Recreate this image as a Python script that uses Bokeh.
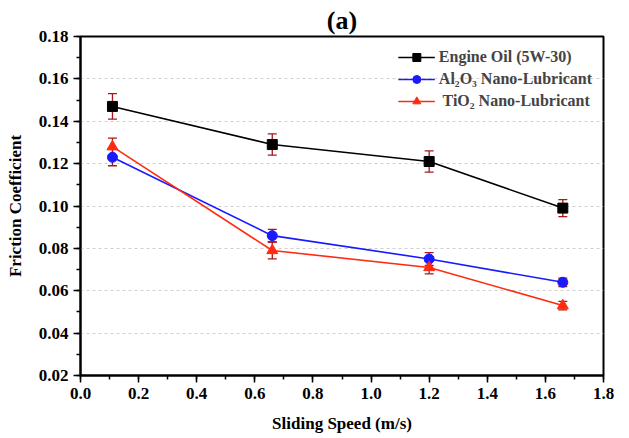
from bokeh.plotting import figure
from bokeh.models import ColumnDataSource, Whisker, TeeHead, NumeralTickFormatter, Range1d, SingleIntervalTicker, Legend, LegendItem, Title
from bokeh.embed import file_html
from bokeh.resources import INLINE

speed = [0.11, 0.66, 1.2, 1.66]
oil = [0.147, 0.129, 0.121, 0.099]
oil_err = [0.006, 0.005, 0.005, 0.004]
al2o3 = [0.123, 0.086, 0.075, 0.064]
al2o3_err = [0.004, 0.003, 0.003, 0.002]
tio2 = [0.128, 0.079, 0.071, 0.053]
tio2_err = [0.004, 0.004, 0.003, 0.002]

names = ["Engine Oil (5W-30)", "Al\u2082O\u2083 Nano-Lubricant", " TiO\u2082 Nano-Lubricant"]
colors = ["black", "#1a1aff", "#ff2a10"]
markers = ["square", "circle", "triangle"]
sizes = [10, 10, 11]
FONT = "Liberation Serif"

p = figure(width=627, height=436, output_backend="svg", toolbar_location=None,
           x_range=Range1d(0, 1.8), y_range=Range1d(0.02, 0.18),
           min_border_left=80, min_border_right=24, min_border_top=36, min_border_bottom=61)

p.title = Title(text="(a)", align="center", text_font=FONT, text_font_size="26px",
                text_font_style="bold", text_color="black")
p.title.standoff = 3

p.outline_line_color = "black"
p.outline_line_width = 2
p.xgrid.visible = False
p.ygrid.grid_line_color = "#cfcfcf"
p.ygrid.grid_line_dash = "3 3"
p.ygrid.grid_line_width = 1

p.xaxis.ticker = SingleIntervalTicker(interval=0.2, num_minor_ticks=2)
p.yaxis.ticker = SingleIntervalTicker(interval=0.02, num_minor_ticks=2)
p.xaxis.formatter = NumeralTickFormatter(format="0.0")
p.yaxis.formatter = NumeralTickFormatter(format="0.00")
for ax in (p.xaxis, p.yaxis):
    ax.axis_line_width = 2
    ax.major_tick_line_width = 1.5
    ax.minor_tick_line_width = 1.5
    ax.major_tick_out = 7
    ax.major_tick_in = 0
    ax.minor_tick_out = 4
    ax.minor_tick_in = 0
    ax.major_label_text_font = FONT
    ax.major_label_text_font_style = "bold"
    ax.major_label_text_font_size = "17px"
    ax.major_label_text_color = "black"
    ax.axis_label_text_font = FONT
    ax.axis_label_text_font_style = "bold"
    ax.axis_label_text_font_size = "17px"
    ax.axis_label_text_color = "black"
p.xaxis.major_label_standoff = 5
p.yaxis.major_label_standoff = 5
p.xaxis.axis_label = "Sliding Speed (m/s)"
p.yaxis.axis_label = "Friction Coefficient"
p.xaxis.axis_label_standoff = 12
p.yaxis.axis_label_standoff = 11

items = []
for vals, errs, name, c, m, s in zip([oil, al2o3, tio2], [oil_err, al2o3_err, tio2_err],
                                     names, colors, markers, sizes):
    src = ColumnDataSource(dict(x=speed, y=vals,
                                lo=[v - e for v, e in zip(vals, errs)],
                                hi=[v + e for v, e in zip(vals, errs)]))
    w = Whisker(source=src, base="x", upper="hi", lower="lo", dimension="height",
                line_color="#a81818", line_width=1.3,
                upper_head=TeeHead(size=9, line_color="#a81818", line_width=1.3),
                lower_head=TeeHead(size=9, line_color="#a81818", line_width=1.3))
    p.add_layout(w)
    r1 = p.line("x", "y", source=src, line_color=c, line_width=1.6)
    r2 = p.scatter("x", "y", source=src, marker=m, size=s, fill_color=c, line_color=c)
    items.append(LegendItem(label=name, renderers=[r1, r2]))

leg = Legend(items=items, location="top_right", border_line_alpha=0,
             background_fill_alpha=0, label_text_font=FONT, label_text_font_style="bold",
             label_text_font_size="16px", glyph_width=37, glyph_height=20, spacing=2,
             margin=6, label_standoff=4, padding=5, label_height=20)
p.add_layout(leg)

open("out.html", "w").write(file_html(p, INLINE))
